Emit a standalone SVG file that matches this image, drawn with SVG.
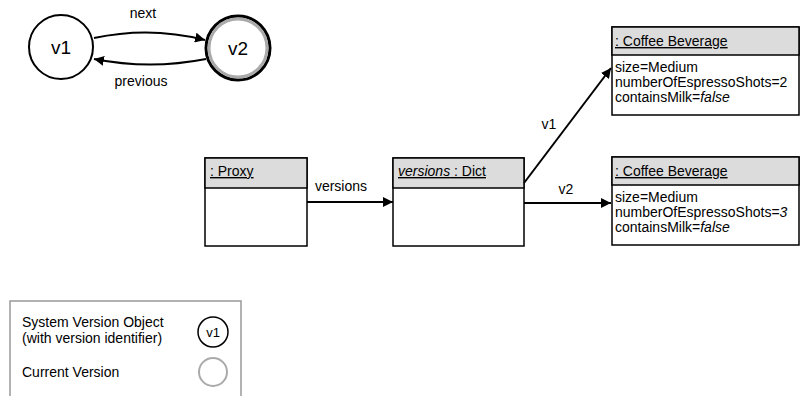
<svg xmlns="http://www.w3.org/2000/svg" width="800" height="396" viewBox="0 0 800 396">
<style>
text{font-family:"Liberation Sans",Arial,sans-serif;fill:#000}
.lbl{font-size:14px}
.vt{font-size:19px}
.hd{fill:#dcdcdc;stroke:#000;stroke-width:1.5}
.bd{fill:#fff;stroke:#000;stroke-width:1.5}
.ln{fill:none;stroke:#000;stroke-width:2}
.u{text-decoration:underline}
</style>
<defs>
<marker id="ah" viewBox="0 0 10 10" refX="10" refY="5" markerWidth="10" markerHeight="10" markerUnits="userSpaceOnUse" orient="auto">
<path d="M0,0 L10,5 L0,10 z" fill="#000"/>
</marker>
</defs>
<g id="v1">
<circle cx="61" cy="47" r="32" fill="#fff" stroke="#000" stroke-width="2"/>
<text class="vt" x="61" y="54" text-anchor="middle">v1</text>
</g>
<g id="v2">
<circle cx="238" cy="48" r="32" fill="#fff" stroke="#000" stroke-width="3"/>
<circle cx="238" cy="48" r="29" fill="none" stroke="#aaa" stroke-width="3"/>
<text class="vt" x="238" y="55" text-anchor="middle">v2</text>
</g>
<g id="proxy">
<rect class="bd" x="205" y="158" width="102" height="88"/>
<rect class="hd" x="205" y="158" width="102" height="30"/>
<text class="lbl u" x="210" y="176">: Proxy</text>
</g>
<g id="dict">
<rect class="bd" x="393" y="158" width="131" height="88"/>
<rect class="hd" x="393" y="158" width="131" height="30"/>
<text class="lbl" x="398" y="176"><tspan class="u" font-style="italic">versions</tspan><tspan class="u"> : Dict</tspan></text>
</g>
<g id="coffee1">
<rect class="bd" x="612" y="27" width="187" height="88"/>
<rect class="hd" x="612" y="27" width="187" height="28"/>
<text class="lbl u" x="615" y="46">: Coffee Beverage</text>
<text class="lbl" x="615" y="72">size=Medium</text>
<text class="lbl" x="615" y="87">numberOfEspressoShots=2</text>
<text class="lbl" x="615" y="102">containsMilk=<tspan font-style="italic">false</tspan></text>
</g>
<g id="coffee2">
<rect class="bd" x="612" y="157" width="187" height="88"/>
<rect class="hd" x="612" y="157" width="187" height="28"/>
<text class="lbl u" x="615" y="176">: Coffee Beverage</text>
<text class="lbl" x="615" y="202">size=Medium</text>
<text class="lbl" x="615" y="217">numberOfEspressoShots=<tspan font-style="italic">3</tspan></text>
<text class="lbl" x="615" y="232">containsMilk=<tspan font-style="italic">false</tspan></text>
</g>
<g id="connectors">
<path class="ln" d="M94,38 Q150,26 205,40" marker-end="url(#ah)"/>
<path class="ln" d="M206,59 Q150,70 94,59" marker-end="url(#ah)"/>
<path class="ln" d="M307,202 L393,202" marker-end="url(#ah)"/>
<path class="ln" d="M524,183 L611,68" marker-end="url(#ah)"/>
<path class="ln" d="M524,203 L611,203" marker-end="url(#ah)"/>
<text class="lbl" x="143" y="18" text-anchor="middle">next</text>
<text class="lbl" x="141" y="86" text-anchor="middle">previous</text>
<text class="lbl" x="341" y="191" text-anchor="middle">versions</text>
<text class="lbl" x="549" y="129" text-anchor="middle">v1</text>
<text class="lbl" x="566" y="194" text-anchor="middle">v2</text>
</g>
<g id="legend">
<rect x="10" y="301" width="231" height="110" fill="#fff" stroke="#999" stroke-width="1.5"/>
<text class="lbl" x="22" y="327">System Version Object</text>
<text class="lbl" x="22" y="343">(with version identifier)</text>
<circle cx="213" cy="332" r="15" fill="#fff" stroke="#000" stroke-width="1.5"/>
<text x="213" y="337" text-anchor="middle" font-size="13">v1</text>
<text class="lbl" x="22" y="377">Current Version</text>
<circle cx="213" cy="372" r="14" fill="none" stroke="#aaa" stroke-width="2"/>
</g>
</svg>
